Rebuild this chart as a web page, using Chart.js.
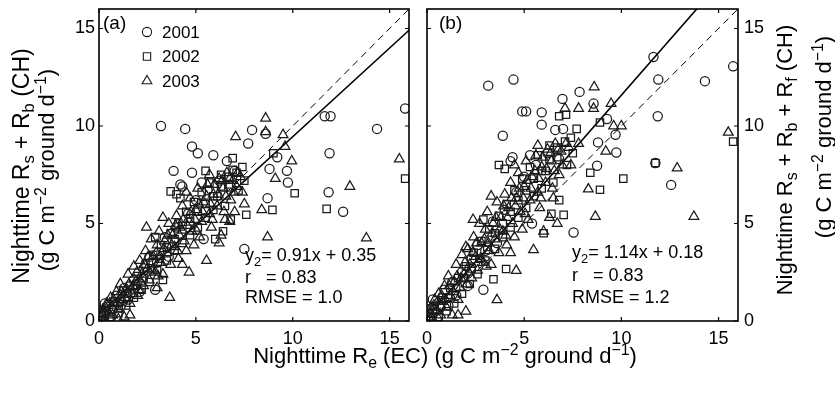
<!DOCTYPE html>
<html>
<head>
<meta charset="utf-8">
<script src="https://cdn.jsdelivr.net/npm/chart.js@4.4.1/dist/chart.umd.min.js"></script>
<style>
body { margin: 0; background: #fff; width: 835px; height: 395px; position: relative; overflow: hidden;
       font-family: "Liberation Sans", Arial, sans-serif; color: #000; }
canvas { position: absolute; top: 0; }
#chartA { left: 0; }
#chartB { left: 420px; }
.txt { position: absolute; white-space: pre; line-height: 1; font-size: 18px; }
.title { position: absolute; white-space: pre; line-height: 1; font-size: 22px; }
.rot { transform: translate(-50%, -50%) rotate(-90deg); }
.mid { transform: translate(-50%, -50%); }
sub, sup { font-size: 72%; line-height: 0; }
</style>
</head>
<body>
<canvas id="chartA" width="420" height="395"></canvas>
<canvas id="chartB" width="415" height="395"></canvas>

<div class="title rot" style="left:21px;top:166px;font-size:23px">Nighttime R<sub>s</sub> + R<sub>b</sub> (CH)</div>
<div class="title rot" style="left:47px;top:170px">(g C m<sup>−2</sup> ground d<sup>−1</sup>)</div>
<div class="title rot" style="left:785px;top:160px">Nighttime R<sub>s</sub> + R<sub>b</sub> + R<sub>f</sub> (CH)</div>
<div class="title rot" style="left:824px;top:137px">(g C m<sup>−2</sup> ground d<sup>−1</sup>)</div>
<div class="title mid" style="left:445px;top:356px">Nighttime R<sub>e</sub> (EC) (g C m<sup>−2</sup> ground d<sup>−1</sup>)</div>

<div class="txt" style="left:245px;top:246px">y<sub>2</sub>= 0.91x + 0.35</div>
<div class="txt" style="left:245px;top:268px">r   = 0.83</div>
<div class="txt" style="left:245px;top:288px">RMSE = 1.0</div>

<div class="txt" style="left:572px;top:243px">y<sub>2</sub>= 1.14x + 0.18</div>
<div class="txt" style="left:572px;top:266px">r   = 0.83</div>
<div class="txt" style="left:572px;top:288px">RMSE = 1.2</div>

<script>
const years = ['2001', '2002', '2003'];
const tickVals = [0, 5, 10, 15];
const axisMax = 16;
const oneToOne = [0, 16];

// fitted lines printed on each panel: slope, intercept
const fitA = [0.91, 0.35];
const fitB = [1.14, 0.18];

// panel (a): EC vs Rs + Rb, [x, y]
const a2001 = [[0.1,0.5],[0.3,0.9],[0.5,0.1],[0.7,0.6],[0.9,1.3],[1.1,0.7],[1.3,1.7],[1.5,1.1],[1.8,2.1],[2.1,1.5],
  [2.3,2.7],[2.6,3.3],[2.9,1.6],[3.0,3.0],[3.2,10.0],[3.4,4.3],[3.6,3.3],[3.85,7.7],[4.0,4.8],[4.3,6.9],
  [4.45,9.85],[4.6,5.5],[4.8,8.95],[4.8,7.6],[5.0,6.2],[5.1,8.6],[5.3,7.1],[5.6,6.7],[5.9,8.5],[6.2,7.2],
  [6.6,8.2],[6.8,6.9],[7.0,7.7],[7.5,3.7],[7.7,9.1],[7.9,9.8],[8.6,9.6],[8.7,6.3],[8.8,7.8],[9.2,8.4],
  [9.7,7.7],[9.75,7.1],[11.65,10.5],[11.95,10.5],[11.9,8.6],[11.85,6.6],[12.6,5.6],[14.35,9.85],[15.8,10.9],[4.2,7.0],[5.4,4.2]];
const a2002 = [[0.2,0.0],[0.4,0.5],[0.6,0.2],[0.8,1.0],[1.0,0.4],[1.2,1.4],[1.4,0.8],[1.6,1.8],[1.8,1.2],[2.0,2.3],
  [2.2,1.6],[2.4,2.9],[2.6,2.0],[2.8,3.4],[3.0,2.6],[3.2,3.9],[3.3,2.1],[3.5,3.1],[3.7,4.5],[3.7,6.65],
  [3.9,3.6],[4.1,5.0],[4.3,4.0],[4.5,5.6],[4.7,4.4],[4.9,6.1],[5.1,4.8],[5.3,6.6],[5.5,5.3],[5.7,7.1],
  [5.9,5.7],[6.1,6.4],[6.3,7.5],[6.5,5.9],[6.7,7.0],[6.9,8.35],[6.9,7.75],[7.2,6.7],[7.5,7.2],[7.6,5.45],
  [8.95,5.7],[9.0,8.6],[10.1,6.55],[11.75,5.75],[15.8,7.3],[6.0,4.2],[6.4,4.6],[5.5,7.7],[4.2,6.3],
  [0.3,0.3],[0.7,0.6],[1.1,1.0],[1.5,1.4],[1.9,1.8],[2.3,2.2],[2.7,2.7],[3.1,3.2],[3.5,3.8],[3.9,4.2],
  [4.3,4.7],[4.7,5.1],[5.1,5.6],[5.5,6.0],[5.9,6.4],[6.3,6.9],[6.7,7.4],[7.1,7.6],[7.4,7.9],[4.0,6.5],
  [2.9,4.3],[6.8,5.2]];
const a2003 = [[0.1,0.2],[0.2,0.6],[0.3,0.1],[0.4,0.9],[0.5,0.4],[0.6,1.2],[0.7,0.3],[0.8,0.8],[0.9,1.5],[1.0,0.6],
  [1.1,1.9],[1.2,1.1],[1.3,0.2],[1.4,1.6],[1.5,2.4],[1.6,0.9],[1.7,1.4],[1.8,2.8],[1.9,2.0],[2.0,1.3],
  [2.1,3.1],[2.2,2.4],[2.3,1.8],[2.4,3.6],[2.45,4.8],[2.5,2.7],[2.6,2.1],[2.7,4.2],[2.8,3.3],[2.9,2.5],
  [3.0,3.9],[3.1,4.6],[3.2,3.0],[3.3,2.4],[3.4,4.1],[3.5,3.5],[3.6,5.0],[3.65,1.2],[3.7,2.9],[3.8,4.4],
  [3.9,3.8],[4.0,5.4],[4.1,3.2],[4.2,4.8],[4.3,5.9],[4.4,4.1],[4.5,3.6],[4.6,5.2],[4.65,2.5],[4.7,6.3],
  [4.8,4.6],[4.9,3.9],[5.0,5.7],[5.1,6.8],[5.2,4.3],[5.3,5.1],[5.4,6.1],[5.55,3.1],[5.6,7.0],[5.7,5.5],
  [5.8,4.8],[5.9,6.5],[6.2,4.0],[6.1,5.9],[6.2,7.3],[6.3,4.4],[6.4,6.8],[6.5,5.2],[6.6,7.6],[6.75,5.1],
  [6.8,6.2],[6.9,7.2],[7.0,5.6],[7.1,6.9],[7.05,9.45],[7.3,7.4],[7.5,6.0],[8.6,10.4],[8.6,9.7],[9.5,9.55],
  [9.6,8.95],[9.95,8.2],[9.1,7.3],[8.4,5.7],[8.7,4.3],[12.95,6.9],[13.8,4.25],[15.5,8.3],[3.0,1.7],[4.3,2.9],
  [1.0,0.1],[1.6,0.3],
  [0.15,0.4],[0.35,0.7],[0.55,0.9],[0.75,1.1],[0.95,0.9],[1.15,1.5],[1.35,1.2],[1.55,1.9],[1.75,1.8],[1.95,2.5],
  [2.15,2.0],[2.35,2.9],[2.55,3.3],[2.75,2.6],[2.95,3.5],[3.15,3.3],[3.35,3.7],[3.55,4.4],[3.75,3.9],[3.95,4.9],
  [4.15,4.4],[4.35,5.2],[4.55,4.9],[4.75,5.6],[4.95,5.2],[5.15,6.0],[5.35,5.6],[5.55,6.4],[5.75,6.0],[5.95,7.0],
  [6.15,6.5],[6.35,7.2],[6.55,6.4],[6.75,7.3],[6.95,6.6],[7.15,7.6],[5.05,4.6],[5.85,5.2],[4.05,3.6],[3.05,2.3],
  [2.05,1.6],[6.45,5.6],[7.4,6.6],[4.5,6.6],[3.3,5.3],[5.7,7.5]];

// panel (b): EC vs Rs + Rb + Rf, [x, y]
const b2001 = [[0.1,0.6],[0.3,1.1],[0.5,0.1],[0.7,0.7],[0.9,1.6],[1.1,0.8],[1.3,2.0],[1.5,1.3],[1.8,2.5],[2.1,1.8],
  [2.3,3.2],[2.6,3.9],[2.9,1.6],[3.0,3.6],[3.15,12.07],[3.4,5.1],[3.6,4.0],[3.9,9.5],[4.0,5.7],[4.3,8.2],
  [4.45,12.38],[4.6,6.6],[4.9,10.75],[5.1,10.75],[5.0,7.4],[5.9,10.7],[5.9,10.07],[5.3,8.5],[5.6,8.0],[6.2,8.6],
  [6.6,9.8],[6.8,8.3],[6.97,11.39],[7.0,9.85],[7.54,4.54],[7.85,11.75],[8.57,11.15],[8.75,7.96],[8.8,9.16],[9.26,10.36],
  [9.7,9.55],[9.74,8.64],[11.65,13.54],[11.9,12.38],[11.87,10.5],[11.75,8.1],[12.56,6.98],[14.3,12.3],[15.75,13.06],[4.4,8.4],[5.4,5.0]];
const b2002 = [[0.2,0.0],[0.4,0.6],[0.6,0.2],[0.8,1.2],[1.0,0.5],[1.2,1.7],[1.4,0.9],[1.6,2.2],[1.8,1.4],[2.0,2.8],
  [2.2,1.9],[2.4,3.5],[2.6,2.4],[2.8,4.1],[3.0,3.1],[3.2,4.7],[3.42,2.14],[3.5,3.7],[3.7,5.4],[3.7,8.0],
  [3.9,4.3],[4.07,2.67],[4.1,6.0],[4.3,4.8],[4.5,6.7],[4.7,5.3],[4.9,7.3],[5.1,5.8],[5.3,7.9],[5.5,6.4],
  [5.7,8.5],[5.9,6.8],[6.0,4.5],[6.1,7.7],[6.3,9.0],[6.5,7.1],[6.7,8.4],[6.8,10.5],[7.03,5.44],[7.15,10.58],
  [7.2,8.0],[7.5,8.6],[7.7,9.85],[8.4,7.6],[8.9,6.73],[8.9,10.18],[10.1,7.3],[11.75,8.1],[15.75,9.2],[6.4,5.5],
  [0.3,0.4],[0.7,0.8],[1.1,1.2],[1.5,1.7],[1.9,2.2],[2.3,2.7],[2.7,3.2],[3.1,3.8],[3.5,4.5],[3.9,5.0],
  [4.3,5.6],[4.7,6.2],[5.1,6.7],[5.5,7.3],[5.9,7.7],[6.3,8.3],[6.7,8.9],[7.1,9.2],[7.4,9.4],[4.0,7.8],
  [2.9,5.2],[6.8,6.2]];
const b2003 = [[0.1,0.2],[0.2,0.7],[0.3,0.1],[0.4,1.1],[0.5,0.5],[0.6,1.4],[0.7,0.3],[0.8,1.0],[0.9,1.8],[1.0,0.7],
  [1.1,2.3],[1.2,1.3],[1.3,0.3],[1.4,2.0],[1.5,2.9],[1.6,1.1],[1.7,1.7],[1.8,3.4],[1.9,2.4],[2.0,3.8],
  [2.1,3.7],[2.2,2.9],[2.3,2.2],[2.37,5.2],[2.4,4.3],[2.5,3.3],[2.6,2.6],[2.7,5.0],[2.8,4.0],[2.9,3.0],
  [3.0,4.7],[3.1,5.6],[3.2,3.6],[3.3,2.9],[3.4,5.0],[3.5,4.2],[3.6,6.1],[3.6,1.08],[3.7,3.5],[3.8,5.3],
  [3.9,4.6],[4.0,6.5],[4.1,3.9],[4.2,5.8],[4.3,7.1],[4.4,5.0],[4.5,4.3],[4.59,2.58],[4.6,6.3],[4.7,7.6],
  [4.8,5.6],[4.9,4.7],[5.0,6.9],[5.1,8.2],[5.2,5.2],[5.3,6.2],[5.4,7.4],[5.48,3.65],[5.6,8.5],[5.7,6.6],
  [5.8,5.8],[5.9,7.9],[6.0,4.6],[6.1,7.1],[6.2,8.8],[6.3,5.3],[6.4,8.2],[6.5,6.3],[6.6,9.1],[6.7,5.0],
  [6.8,7.5],[6.9,8.7],[7.1,10.9],[7.3,8.9],[7.8,10.9],[7.8,9.1],[8.57,10.9],[8.6,12.0],[9.47,11.15],[9.6,10.0],
  [10.0,10.0],[9.2,8.7],[8.3,6.76],[8.66,5.36],[12.87,7.84],[13.73,5.36],[15.5,9.67],[1.6,0.3],[2.0,0.5],[4.3,3.5],
  [0.15,0.4],[0.35,0.8],[0.55,1.0],[0.75,1.3],[0.95,1.1],[1.15,1.8],[1.35,1.5],[1.55,2.3],[1.75,2.2],[1.95,3.0],
  [2.15,2.5],[2.35,3.5],[2.55,4.0],[2.75,3.2],[2.95,4.2],[3.15,4.0],[3.35,4.5],[3.55,5.3],[3.75,4.7],[3.95,5.9],
  [4.15,5.3],[4.35,6.3],[4.55,5.9],[4.75,6.8],[4.95,6.3],[5.15,7.2],[5.35,6.8],[5.55,7.7],[5.75,7.3],[5.95,8.4],
  [6.15,7.8],[6.35,8.6],[6.55,7.7],[6.75,8.8],[6.95,8.0],[7.15,9.1],[5.05,5.5],[5.85,6.3],[4.05,4.4],[3.05,2.8],
  [2.05,1.9],[6.45,6.8],[7.4,8.0],[4.5,8.0],[3.3,6.4],[5.7,9.0]];

const markers = [
  { pointStyle: 'circle', radius: 4.6 },
  { pointStyle: 'rect', radius: 5.2 },
  { pointStyle: 'triangle', radius: 5.6 }
];
const ink = '#1a1a1a';
const tickFont = { family: '"Liberation Sans", Arial, sans-serif', size: 18, lineHeight: 1 };

const toXY = arr => arr.map(p => ({ x: p[0], y: p[1] }));

function scatterSets(series) {
  return series.map((s, i) => ({
    label: years[i],
    data: toXY(s),
    pointStyle: markers[i].pointStyle,
    pointRadius: markers[i].radius,
    pointBorderColor: ink,
    pointBackgroundColor: 'rgba(0,0,0,0)',
    pointBorderWidth: 1.25,
    showLine: false
  }));
}

function lineSets(fit) {
  return [
    { label: 'fit', data: oneToOne.map(v => ({ x: v, y: fit[0] * v + fit[1] })),
      showLine: true, borderColor: '#000', borderWidth: 1.6, pointRadius: 0 },
    { label: '1:1', data: oneToOne.map(v => ({ x: v, y: v })),
      showLine: true, borderColor: '#000', borderWidth: 1, borderDash: [7, 5], pointRadius: 0 }
  ];
}

// box round the plot, inward ticks, panel letter and the legend
const frame = {
  id: 'frame',
  afterDatasetsDraw(chart, args, opts) {
    const { ctx, chartArea: a, scales: { x, y } } = chart;
    ctx.save();
    ctx.strokeStyle = '#000';
    ctx.lineWidth = 1.6;
    ctx.strokeRect(a.left, a.top, a.right - a.left, a.bottom - a.top);
    ctx.lineWidth = 1.2;
    ctx.beginPath();
    tickVals.forEach(v => {
      const px = x.getPixelForValue(v), py = y.getPixelForValue(v);
      ctx.moveTo(px, a.bottom); ctx.lineTo(px, a.bottom - 4);
      ctx.moveTo(px, a.top); ctx.lineTo(px, a.top + 4);
      ctx.moveTo(a.left, py); ctx.lineTo(a.left + 4, py);
      ctx.moveTo(a.right, py); ctx.lineTo(a.right - 4, py);
    });
    ctx.stroke();

    ctx.fillStyle = '#000';
    ctx.textBaseline = 'middle';
    ctx.font = '19px "Liberation Sans", Arial, sans-serif';
    ctx.fillText(opts.letter, a.left + opts.letterDx, a.top + 15);

    if (opts.legend) {
      ctx.font = '17px "Liberation Sans", Arial, sans-serif';
      years.forEach((yr, i) => {
        const ly = a.top + 23 + 24.5 * i;
        ctx.strokeStyle = ink;
        ctx.fillStyle = 'rgba(0,0,0,0)';
        ctx.lineWidth = 1.1;
        Chart.helpers.drawPoint(ctx, { pointStyle: markers[i].pointStyle, radius: markers[i].radius, borderWidth: 1.1 }, a.left + 48, ly);
        ctx.fillStyle = '#000';
        ctx.fillText(yr, a.left + 63, ly + 1);
      });
    }
    ctx.restore();
  }
};

function noPad(s) {
  s.paddingTop = 0; s.paddingBottom = 0; s.paddingLeft = 0; s.paddingRight = 0;
}

function makeChart(id, series, fit, side, padding, letter, letterDx, legend) {
  return new Chart(document.getElementById(id), {
    type: 'scatter',
    data: { datasets: scatterSets(series).concat(lineSets(fit)) },
    plugins: [frame],
    options: {
      responsive: false,
      animation: false,
      events: [],
      layout: { padding: padding },
      plugins: { legend: { display: false }, tooltip: { enabled: false },
                 frame: { letter: letter, letterDx: letterDx, legend: legend } },
      scales: {
        x: {
          type: 'linear', min: 0, max: axisMax,
          afterBuildTicks: s => { s.ticks = tickVals.map(v => ({ value: v })); },
          afterFit: s => { s.height = 24; noPad(s); },
          grid: { display: false, drawTicks: false }, border: { display: false },
          ticks: { font: tickFont, color: '#000', padding: 9, maxRotation: 0 }
        },
        y: {
          type: 'linear', min: 0, max: axisMax, position: side,
          afterBuildTicks: s => { s.ticks = tickVals.map(v => ({ value: v })); },
          afterFit: s => { s.width = 30; noPad(s); },
          grid: { display: false, drawTicks: false }, border: { display: false },
          ticks: { font: tickFont, color: '#000', padding: side === 'left' ? 4 : 6 }
        }
      }
    }
  });
}

makeChart('chartA', [a2001, a2002, a2003], fitA, 'left', { left: 69, right: 11, top: 9, bottom: 50 }, '(a)', 4, true);
makeChart('chartB', [b2001, b2002, b2003], fitB, 'right', { left: 7, right: 67, top: 9, bottom: 50 }, '(b)', 12, false);
</script>
</body>
</html>
